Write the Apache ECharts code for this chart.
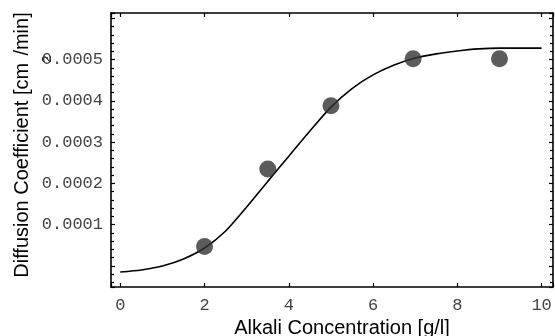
<!DOCTYPE html>
<html>
<head>
<meta charset="utf-8">
<script src="https://cdn.jsdelivr.net/npm/echarts@6/dist/echarts.min.js"></script>
<style>html,body{margin:0;padding:0;background:#fff}#c{width:555px;height:336px}</style>
</head>
<body>
<div id="c"></div>
<script>
// Fitted curve (x, diffusion coefficient)
const curveX = [0, 0.5, 1, 1.5, 2, 2.5, 3, 3.5, 4, 4.5, 5, 5.5, 6, 6.5, 7, 7.5, 8, 8.5, 9, 9.5, 10];
const curveY = [-0.0000145, -0.0000097, 0.0, 0.000017, 0.0000436, 0.0000848, 0.000143, 0.000205, 0.000266, 0.000327, 0.000385, 0.000430, 0.000463, 0.000487, 0.000504, 0.000514, 0.000521, 0.000526, 0.000528, 0.000528, 0.000528];
// Measured points
const pointX = [2, 3.5, 5, 6.95, 9];
const pointY = [0.0000473, 0.000235, 0.000388, 0.000502, 0.000502];
const xTickLabels = [0, 2, 4, 6, 8, 10];
const yTickLabels = ['0.0001', '0.0002', '0.0003', '0.0004', '0.0005'];

const xMin = -0.22, xMax = 10.27, yMin = -0.0000509, yMax = 0.000613;
const mono = 'Liberation Mono';
const sans = 'Liberation Sans';

function xFmt(v) {
  for (const t of xTickLabels) if (Math.abs(v - t) < 1e-6) return String(t);
  return '';
}
function yFmt(v) {
  for (const t of yTickLabels) if (Math.abs(v - parseFloat(t)) < 1e-9) return t;
  return '';
}

const line = { color: '#000', width: 1.6 };
const tick = { show: true, inside: true, length: 4, lineStyle: { color: '#000', width: 1.2 } };
const minor = { show: true, splitNumber: 5, length: 3, lineStyle: { color: '#000', width: 1.2 } };
const chart = echarts.init(document.getElementById('c'));
chart.setOption({
  animation: false,
  backgroundColor: '#fff',
  grid: { left: 111, right: 2, top: 13, bottom: 49, show: false, containLabel: false, outerBoundsMode: 'none' },
  xAxis: [
    { type: 'value', min: xMin, max: xMax, splitNumber: 5, position: 'bottom',
      axisLine: { show: true, onZero: false, lineStyle: line },
      axisTick: tick, splitLine: { show: false },
      axisLabel: { formatter: xFmt, fontFamily: mono, fontSize: 17, color: '#444', margin: 10, showMinLabel: true, showMaxLabel: true },
      name: 'Alkali Concentration [g/l]', nameLocation: 'middle', nameGap: 29,
      nameTextStyle: { fontFamily: sans, fontSize: 20, color: '#000', padding: [0, 0, 0, 20] } },
    { type: 'value', min: xMin, max: xMax, splitNumber: 5, position: 'top',
      axisLine: { show: true, onZero: false, lineStyle: line },
      axisTick: tick, splitLine: { show: false }, axisLabel: { show: false } }
  ],
  yAxis: [
    { type: 'value', min: yMin, max: yMax, splitNumber: 6, position: 'left',
      axisLine: { show: true, onZero: false, lineStyle: line },
      axisTick: tick, minorTick: minor, splitLine: { show: false },
      axisLabel: { formatter: yFmt, fontFamily: mono, fontSize: 17, color: '#444', margin: 8, showMinLabel: true, showMaxLabel: true },
      name: '{m|Diffusion Coefficient [cm}{s|2}{m|/min]}', nameLocation: 'middle', nameGap: 57,
      nameMoveOverlap: false,
      nameTextStyle: { fontFamily: sans, fontSize: 20, color: '#000', padding: [0, 0, 0, 10],
        rich: {
          m: { fontFamily: sans, fontSize: 20, color: '#000', lineHeight: 64, verticalAlign: 'middle' },
          s: { fontFamily: sans, fontSize: 13, color: '#000', lineHeight: 64, verticalAlign: 'bottom' }
        } } },
    { type: 'value', min: yMin, max: yMax, splitNumber: 6, position: 'right',
      axisLine: { show: true, onZero: false, lineStyle: line },
      axisTick: tick, minorTick: minor, splitLine: { show: false }, axisLabel: { show: false } }
  ],
  series: [
    { type: 'line', xAxisIndex: 0, yAxisIndex: 0, data: curveX.map((x, i) => [x, curveY[i]]),
      showSymbol: false, smooth: 0.25, lineStyle: { color: '#000', width: 1.6 }, z: 2 },
    { type: 'scatter', xAxisIndex: 0, yAxisIndex: 0, data: pointX.map((x, i) => [x, pointY[i]]),
      symbol: 'circle', symbolSize: 17, itemStyle: { color: '#333' }, z: 3 }
  ]
});
</script>
</body>
</html>
